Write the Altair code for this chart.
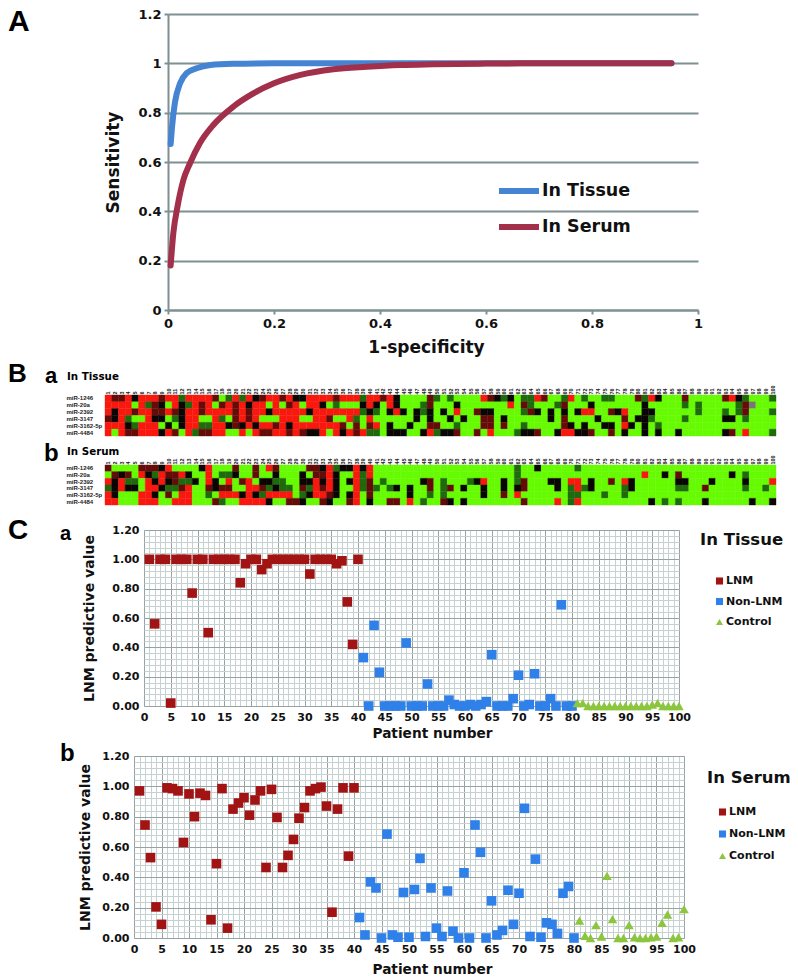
import altair as alt
import pandas as pd

# ---------- Panel A ----------
tissue_x = [0.005, 0.0075, 0.013, 0.023, 0.035, 0.054, 0.08, 0.123, 0.2, 0.3, 0.5, 0.7, 0.95]
tissue_y = [0.673, 0.74, 0.84, 0.92, 0.96, 0.98, 0.993, 0.998, 1.0, 1.0, 1.0, 1.0, 1.0]
serum_x = [0.005, 0.01, 0.018, 0.029, 0.0415, 0.06, 0.0855, 0.123, 0.161, 0.2, 0.25, 0.312, 0.375, 0.438, 0.5, 0.6, 0.7, 0.8, 0.95]
serum_y = [0.18, 0.31, 0.42, 0.527, 0.595, 0.676, 0.75, 0.824, 0.878, 0.919, 0.953, 0.976, 0.986, 0.993, 0.996, 0.999, 1.0, 1.0, 1.0]

# ---------- Panel B (R bright red, r dark red, k black, g dark green, G bright green, x grey) ----------
mirnas_tissue = ["miR-1246", "miR-20a", "miR-2392", "miR-3147", "miR-3162-5p", "miR-4484"]
heat_tissue = [
    "RrrRkRRRrR" "RgRRRRrGgR" "gRkrRRrRkk" "RRRRrRRRgR" "RrRkGGGGrg" "GgGGGGRrkg" "kGggRrGGgR" "GgGGggGGGr" "gRkGGGrGGG" "GGrRkgGGGg",
    "RRRRGRgrkG" "RkgRrRGrRr" "RkRRGRGrRG" "RRkGgGGGkR" "kGRkGGGgrG" "GGkGGGGGGG" "RGrgGGGgrG" "GGkGGGGGGG" "kGGGGGgGgG" "GGGGgrxGGG",
    "RkRRrRRrrR" "rkRRrRRRRr" "RrRRkRRRRR" "kRRRRRRRgk" "gGkRkGkgkG" "kGRGGrkkGG" "GGgrkGkGkG" "kRRGGrkRGG" "kkGGGGGGgG" "GGgGgrGGGg",
    "rkRgGGRkkG" "gkRRGGRgGr" "RrRGGGRRRG" "GRRrGGRgGR" "GGGGGGkGkG" "GkGkGGrrGk" "GGGGGGkGrG" "GGGkGGGrGk" "kgGGGGgGGG" "GGkkGgGGGG",
    "RRRkgRRRGk" "GkRRggRRkr" "kRkRRrRkRR" "RRRRRrGrGr" "RGkGGkGGrr" "GGgGGGrrGr" "GGgGGGGGrk" "GkGGkkGRkG" "kGgGGGGGGG" "GGGGGGGGGG",
    "RGRrrRRRkR" "rGRgrrRRGG" "RGRrrRRrRr" "kkRGRkRrRg" "gGkkkGGkRg" "kkrGGrGRGG" "GgkkrGGkRR" "kkrGGrGkGG" "kGkGGkGGGG" "GGkrGRGGGg",
]
mirnas_serum = ["miR-1246", "miR-20a", "miR-2392", "miR-3147", "miR-3162-5p", "miR-4484"]
heat_serum = [
    "rGGGGrrrkR" "GGGGkRGGGr" "GGrGRrGGGG" "rrkRgkkRkR" "GGGGGGGGGG" "GGGGGGGGGG" "GgGGkGGGGG" "gGGGGGGGGG" "GGGGGGGGGG" "GGGGGGGGGG",
    "GrkrGRkgRr" "rRkGGRGggk" "GGrGGkGGGk" "GrrRkGGRgR" "GGGGGGGGGG" "GGGGGGGGGG" "GgGGGGGGGG" "GGGGGGGGGG" "RGGkGrGGGG" "GGGkGgGGGG",
    "RkRggGRkRk" "rggkGRkGRG" "rRGkkggGGk" "kRkRkGkRgr" "GgGGGGGkrG" "gGGGgkRGGk" "GgrGGGkkGR" "RGkGGrGRkG" "GGGGGkkGGG" "kGGGGkGGGR",
    "gkRkkGRRkg" "grRGGrkrrG" "GRRrgkggGr" "gRrRkGGRgr" "gGgkGkGGrG" "grGkGGkGGk" "GkrGGGGkGg" "RgkGGGGgkG" "GGGGGggGGr" "GGGGGgGGgG",
    "RkGGGRRkGr" "GRRGGgGRRR" "kRkgRRRRGg" "kRRrkGkRGr" "GGGGGkGGgG" "gGGGGGkGGr" "GRGGGGGGGg" "gGGGgGGgGG" "GGGGGGGGGG" "GGGGGGGGGG",
    "RRGGGRRRGG" "RRRGGGrgGG" "RRRRkGGrrk" "GGrkGGrRGk" "GGrrGRGgGG" "rkGkGGGGGG" "GGrGGGGRGg" "RGGGGGGGGG" "GkGgGgGGGk" "GGGGGGkGGk",
]
heat_codes = ["R", "r", "k", "g", "G", "x"]
heat_colors = ["#f9180e", "#650c08", "#0a0604", "#1f6a0c", "#66fb00", "#777777"]

# ---------- Panel C ----------
groups = ["LNM", "Non-LNM", "Control"]
patients = list(range(1, 101))
pred_tissue = [
    1, .56, 1, 1, .02, 1, 1, 1, .77, 1, 1, .50, 1, 1, 1, 1, 1, .84, .97, 1,
    1, .93, .97, 1, 1, 1, 1, 1, 1, 1, .90, 1, 1, 1, 1, .97, .99, .71, .42, 1,
    .33, 0, .55, .23, 0, 0, 0, 0, .43, 0, 0, 0, .15, 0, 0, 0, .04, .01, 0, 0,
    .01, 0, .01, .03, .35, 0, 0, 0, .05, .21, 0, .01, .22, 0, 0, .05, 0, .69, 0, 0,
    .02, .02, 0, 0, 0, 0, 0, 0, 0, 0, 0, 0, 0, 0, .01, .02, 0, 0, 0, 0,
]
pred_serum = [
    .97, .745, .53, .205, .09, .99, .985, .97, .63, .95, .80, .955, .94, .12, .49, .985, .065, .85, .89, .925,
    .81, .91, .97, .465, .98, .795, .465, .545, .65, .79, .86, .97, .985, .995, .87, .17, .85, .99, .54, .99,
    .135, .02, .37, .33, 0, .685, .02, .005, .30, .005, .32, .525, .01, .33, .065, .01, .31, .045, 0, .43,
    0, .745, .565, 0, .245, .02, .05, .315, .09, .295, .855, .01, .52, .005, .10, .09, .03, .295, .34, 0,
    .115, .015, 0, .085, .01, .41, .125, 0, 0, .085, .005, 0, 0, .005, .01, .10, .155, 0, .005, .19,
]
group_of = ["LNM"] * 40 + ["Non-LNM"] * 40 + ["Control"] * 20

x_major = list(range(0, 101, 5))
x_minor = list(range(0, 101))
y_major = [0, .2, .4, .6, .8, 1.0, 1.2]
y_minor = [round(i * .04, 2) for i in range(31)]

W, H = 782, 969
BOLD = "Liberation Sans"
WIDE = "DejaVu Sans"

# ---------- Panel A ----------
roc = pd.DataFrame(
    {"fpr": tissue_x + serum_x, "sens": tissue_y + serum_y,
     "curve": ["In Tissue"] * len(tissue_x) + ["In Serum"] * len(serum_x),
     "i": list(range(len(tissue_x))) + list(range(len(serum_x)))}
)
panel_a = alt.Chart(roc).mark_line(strokeWidth=6, strokeCap="round", interpolate="monotone").encode(
    x=alt.X("fpr:Q", scale=alt.Scale(domain=[0, 1], range=[160, 690], nice=False),
            axis=alt.Axis(orient="bottom", offset=302 - H, values=[0, .2, .4, .6, .8, 1], format="~g",
                          title="1-specificity", titleFont=WIDE, titleFontSize=17, titleFontWeight="bold",
                          titleColor="#111", titleX=418, titleY=29, labelFont=WIDE, labelFontSize=13, labelFontWeight="bold",
                          labelColor="#111", labelPadding=3, labelFlush=False, tickSize=4, tickColor="#7f9092", tickWidth=2,
                          domainColor="#7f9092", domainWidth=2, grid=False)),
    y=alt.Y("sens:Q", scale=alt.Scale(domain=[0, 1.2], range=[302, 6], nice=False),
            axis=alt.Axis(orient="left", offset=-160, values=y_major, format="~g",
                          title="Sensitivity", titleFont=WIDE, titleFontSize=17, titleFontWeight="bold",
                          titleColor="#111", titlePadding=15, labelFont=WIDE, labelFontSize=13, labelFontWeight="bold",
                          labelColor="#111", labelPadding=3, labelFlush=False, tickSize=4, tickColor="#7f9092", tickWidth=2,
                          domainColor="#7f9092", domainWidth=2, grid=True, gridColor="#7f9092", gridWidth=2)),
    color=alt.Color("curve:N", scale=alt.Scale(domain=["In Tissue", "In Serum"], range=["#4484d2", "#a2304a"]),
                    legend=alt.Legend(orient="none", legendX=488, legendY=160, title=None, symbolType="stroke",
                                      symbolSize=1600, symbolStrokeWidth=6, labelFont=WIDE, labelFontSize=17.5,
                                      labelFontWeight="bold", labelColor="#111", rowPadding=1, labelOffset=0,
                                      labelLimit=200)),
    order="i:Q",
)


# ---------- Panel B ----------
def heat_panel(rows, values, xr, yr):
    df = pd.DataFrame(
        [{"patient": p, "mirna": rows[r], "row": r, "code": values[r][p - 1]}
         for r in range(len(rows)) for p in patients]
    )
    color_scale = alt.Scale(domain=heat_codes, range=heat_colors)
    return alt.Chart(df).mark_rect(strokeWidth=0.4).encode(
        x=alt.X("patient:O", scale=alt.Scale(domain=patients, range=xr, paddingInner=0, paddingOuter=0),
                axis=alt.Axis(orient="top", offset=-yr[0], title=None, labelFont=BOLD, labelFontSize=5.5,
                              labelFontWeight="bold", labelColor="#222", labelAngle=270, labelPadding=1,
                              labelOverlap=False, ticks=False, domain=False, grid=False)),
        y=alt.Y("row:O", scale=alt.Scale(domain=list(range(len(rows))), range=yr, paddingInner=0, paddingOuter=0),
                axis=alt.Axis(orient="left", offset=-xr[0], title=None, labelFont=BOLD, labelFontSize=6,
                              labelFontWeight="bold", labelColor="#222", labelAlign="left", labelPadding=xr[0] - 58,
                              labelExpr="[" + ",".join(f"'{m}'" for m in rows) + "][datum.value]",
                              labelOverlap=False, ticks=False, domain=False, grid=False)),
        color=alt.Color("code:N", scale=color_scale, legend=None),
        stroke=alt.Stroke("code:N", scale=color_scale, legend=None),
    )


heat_a = heat_panel(mirnas_tissue, heat_tissue, [97, 768], [387, 428])
heat_b = heat_panel(mirnas_serum, heat_serum, [97, 768], [457, 497])


# ---------- Panel C ----------
def scatter_panel(values, xr, yr, title, lx, ly, title_x, title_y_off, ytitle_pad, title_pad, row_pad, sym_off):
    df = pd.DataFrame({"patient": patients, "pred": values, "group": group_of})
    xs = alt.Scale(domain=[0, 100], range=xr, nice=False)
    ys = alt.Scale(domain=[0, 1.2], range=yr, nice=False)

    def grid_layer(x_vals, y_vals, color):
        return alt.Chart(df).mark_point(opacity=0).encode(
            x=alt.X("patient:Q", scale=xs,
                    axis=alt.Axis(orient="top", values=x_vals, title=None, labels=False,
                                  ticks=False, domain=False, grid=True, gridColor=color, gridWidth=1)),
            y=alt.Y("pred:Q", scale=ys,
                    axis=alt.Axis(orient="left", offset=-xr[0], values=y_vals, title=None, labels=False,
                                  ticks=False, domain=False, grid=True, gridColor=color, gridWidth=1)),
        )

    legend = alt.Legend(orient="none", legendX=lx, legendY=ly, title=title, titleFont=WIDE,
                        titleFontSize=16.5, titleFontWeight="bold", titleColor="#111", titlePadding=title_pad,
                        titleLimit=200, symbolSize=50, symbolOffset=sym_off, labelFont=WIDE, labelFontSize=11,
                        labelFontWeight="bold", labelColor="#111", rowPadding=row_pad, labelOffset=1,
                        symbolStrokeWidth=0)
    points = alt.Chart(df).mark_point(filled=True, opacity=1, size=92).encode(
        x=alt.X("patient:Q", scale=xs,
                axis=alt.Axis(orient="bottom", offset=yr[0] - H, values=x_major, title="Patient number",
                              titleFont=WIDE, titleFontSize=13.7, titleFontWeight="bold", titleColor="#111",
                              titleX=title_x, titleY=title_y_off, labelFont=WIDE, labelFontSize=11,
                              labelFontWeight="bold", labelColor="#111", labelPadding=5, labelFlush=False, ticks=False,
                              domain=False, grid=False, labelOverlap=False)),
        y=alt.Y("pred:Q", scale=ys,
                axis=alt.Axis(orient="left", offset=-xr[0], values=y_major, format=".2f", title="LNM predictive value",
                              titleFont=WIDE, titleFontSize=14, titleFontWeight="bold", titleColor="#111",
                              titlePadding=ytitle_pad, labelFont=WIDE, labelFontSize=11, labelFontWeight="bold",
                              labelColor="#111", labelPadding=5, labelFlush=False, ticks=False, domain=False,
                              grid=False, labelOverlap=False)),
        color=alt.Color("group:N", scale=alt.Scale(domain=groups, range=["#a21414", "#2f80e8", "#8cc63f"]), legend=legend),
        shape=alt.Shape("group:N", scale=alt.Scale(domain=groups, range=["square", "square", "triangle-up"]), legend=legend),
    )
    return [grid_layer(x_minor, y_minor, "#c6d2d2"), grid_layer(x_major, y_major, "#95a3a3"), points]


scatter_a = scatter_panel(pred_tissue, [136, 671], [698, 522], "In Tissue", 692, 524, 424, 20, 15, 27, 8.5, 14)
scatter_b = scatter_panel(pred_serum, [126, 676], [930, 748], "In Serum", 699, 762, 424, 24, 9, 20, 10, 10)


# ---------- Text annotations ----------
def note(text, x, y, size, font=BOLD):
    return alt.Chart(pd.DataFrame({"t": [text]})).mark_text(
        font=font, fontSize=size, fontWeight="bold", align="left", baseline="middle", color="#000"
    ).encode(x=alt.value(x), y=alt.value(y), text="t:N")


notes = [
    note("A", 0, 14, 30), note("B", 0, 366, 26), note("C", 0, 523, 28),
    note("a", 37, 368, 22), note("b", 36, 446, 24),
    note("In Tissue", 59, 369, 10.3, WIDE), note("In Serum", 59, 444, 10.3, WIDE),
    note("a", 52, 526, 20), note("b", 52, 746, 24),
]

chart = alt.layer(panel_a, heat_a, heat_b, *scatter_a, *scatter_b, *notes).resolve_scale(
    x="independent", y="independent", color="independent", shape="independent", stroke="independent"
).properties(
    width=W, height=H, padding=0, autosize=alt.AutoSizeParams(type="none")
).configure_view(stroke=None)

chart.save("out.html", embed_options={"renderer": "svg", "actions": False})
